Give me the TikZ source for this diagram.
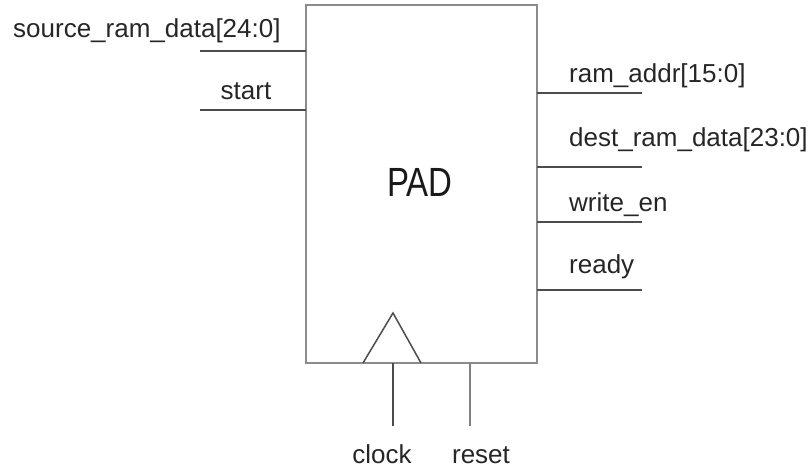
\documentclass[tikz,border=0pt]{standalone}
\usepackage{fontspec}
\usepackage{graphicx}
\setmainfont{Liberation Sans}
\begin{document}
\begin{tikzpicture}[x=1pt,y=-1pt,
  blockedge/.style={draw=black!45,line width=1.6pt},
  wire/.style={draw=black!70,line width=1.5pt},
  sig/.style={inner sep=0pt,font=\fontsize{26}{30}\selectfont,text=black!85},
  title/.style={inner sep=0pt,font=\fontsize{34}{40}\selectfont,text=black!90}]
\useasboundingbox (0,0) rectangle (808,470);
% block outline
\coordinate (tl) at (306,5);
\coordinate (br) at (537,363);
\draw[blockedge] (tl) rectangle (br);
% clock triangle
\coordinate (tA) at (363,363);
\coordinate (tB) at (393,313);
\coordinate (tC) at (421,363);
\draw[wire,line join=miter] (tA) -- (tB) -- (tC);
\node[title,anchor=base] (pad) at (420,197) {\scalebox{0.97}[1.2]{PAD}};
% inputs
\coordinate (srcL) at (200,51);
\coordinate (srcR) at (306,51);
\coordinate (stL) at (200,110);
\coordinate (stR) at (306,110);
\draw[wire] (srcL) -- (srcR);
\draw[wire] (stL) -- (stR);
\node[sig,anchor=base west] (src) at (13,38) {source\_ram\_data[24:0]};
\node[sig,anchor=base] (st) at (246,100) {start};
% outputs
\coordinate (a1) at (537,93);  \coordinate (a2) at (642,93);
\coordinate (d1) at (537,167); \coordinate (d2) at (642,167);
\coordinate (w1) at (537,222); \coordinate (w2) at (642,222);
\coordinate (r1) at (537,290); \coordinate (r2) at (642,290);
\draw[wire] (a1) -- (a2);
\draw[wire] (d1) -- (d2);
\draw[wire] (w1) -- (w2);
\draw[wire] (r1) -- (r2);
\node[sig,anchor=base west] (addr) at (569,83) {ram\_addr[15:0]};
\node[sig,anchor=base west] (dest) at (569,147) {dest\_ram\_data[23:0]};
\node[sig,anchor=base west] (wen) at (569,212) {write\_en};
\node[sig,anchor=base west] (rdy) at (569,273) {ready};
% clock and reset
\coordinate (c1) at (393,363); \coordinate (c2) at (393,426);
\coordinate (s1) at (470,363); \coordinate (s2) at (470,426);
\draw[wire] (c1) -- (c2);
\draw[wire,draw=black!50] (s1) -- (s2);
\node[sig,anchor=base] (clk) at (382,463) {clock};
\node[sig,anchor=base] (rst) at (481,463) {reset};
\end{tikzpicture}
\end{document}
